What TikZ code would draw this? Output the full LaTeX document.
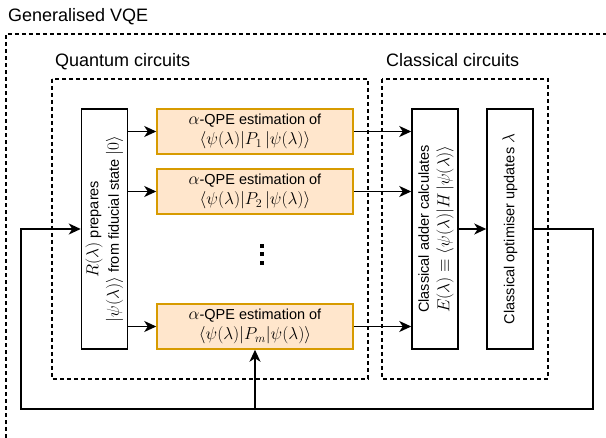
\documentclass[tikz,border=0pt]{standalone}
\usepackage{amssymb, amsmath}
\usepackage{fontspec}
\setmainfont{Liberation Sans}
\usetikzlibrary{arrows.meta}
\DeclareMathSizes{14.5}{17.28}{12}{10}

\definecolor{qpefill}{HTML}{FFE6CC}
\definecolor{qpeline}{HTML}{D79B00}

\tikzset{
 box/.style={draw, line width=1.5pt, minimum width=46pt, minimum height=240pt, inner sep=0pt, font=\fontsize{14.5}{20.5}\selectfont},
 qpe/.style={draw=qpeline, fill=qpefill, line width=1.5pt, minimum width=196pt, minimum height=45pt, inner sep=0pt, align=center, font=\fontsize{14.5}{20.5}\selectfont},
 region/.style={line width=1.4pt, dash pattern=on 4pt off 3pt},
 lab/.style={anchor=base west, inner sep=0pt, font=\fontsize{18}{22}\selectfont},
 arr/.style={line width=1.5pt, -{Stealth[length=12pt,width=11pt,inset=3.5pt]}}
}

\begin{document}
\begin{tikzpicture}[x=1pt,y=-1pt]
 \useasboundingbox (0,0) rectangle (606,438);

 \node[lab] (gvqe) at (8,22) {Generalised VQE};
 \draw[region] (6,438) -- (6,34) -- (606,34);
 \node[lab] (qlab) at (55,67) {Quantum circuits};
 \draw[region] (52,79) rectangle (368,379);
 \node[lab] (clab) at (386,67) {Classical circuits};
 \draw[region] (382,79) rectangle (548,379);

 \node[box] (prep) at (104.5,229) {\rotatebox{90}{\begin{tabular}{@{}c@{}}$R(\lambda)$ prepares\\ $|\psi(\lambda)\rangle$ from fiducial state $|0\rangle$\end{tabular}}};
 \node[qpe] (q1) at (255,131.5) {$\alpha$-QPE estimation of\\ $\langle\psi(\lambda)|P_1\,|\psi(\lambda)\rangle$};
 \node[qpe] (q2) at (255,191.5) {$\alpha$-QPE estimation of\\ $\langle\psi(\lambda)|P_2\,|\psi(\lambda)\rangle$};
 \node[qpe] (qm) at (255,326.5) {$\alpha$-QPE estimation of\\ $\langle\psi(\lambda)|P_m|\psi(\lambda)\rangle$};
 \node[box] (adder) at (435,229) {\rotatebox{90}{\begin{tabular}{@{}c@{}}Classical adder calculates\\ $E(\lambda)\equiv\langle\psi(\lambda)|H\,|\psi(\lambda)\rangle$\end{tabular}}};
 \node[box] (optim) at (510,229) {\rotatebox{90}{Classical optimiser updates $\lambda$}};

 \foreach \y in {246,254.5,263}
  \fill (260,\y-2) rectangle (264,\y+2);

 \coordinate (fbr) at (593,409);
 \coordinate (fbl) at (21,409);

 \foreach \q in {q1,q2,qm} {
  \draw[arr] (prep.east |- \q.west) -- (\q.west);
  \draw[arr] (\q.east) -- (\q.east -| adder.west);
 }
 \draw[arr] (adder) -- (optim);
 \draw[arr] (optim.east) -| (fbr) -- (fbl) |- (prep.west);
 \draw[arr] (qm.south |- fbl) -- (qm.south);
\end{tikzpicture}
\end{document}
